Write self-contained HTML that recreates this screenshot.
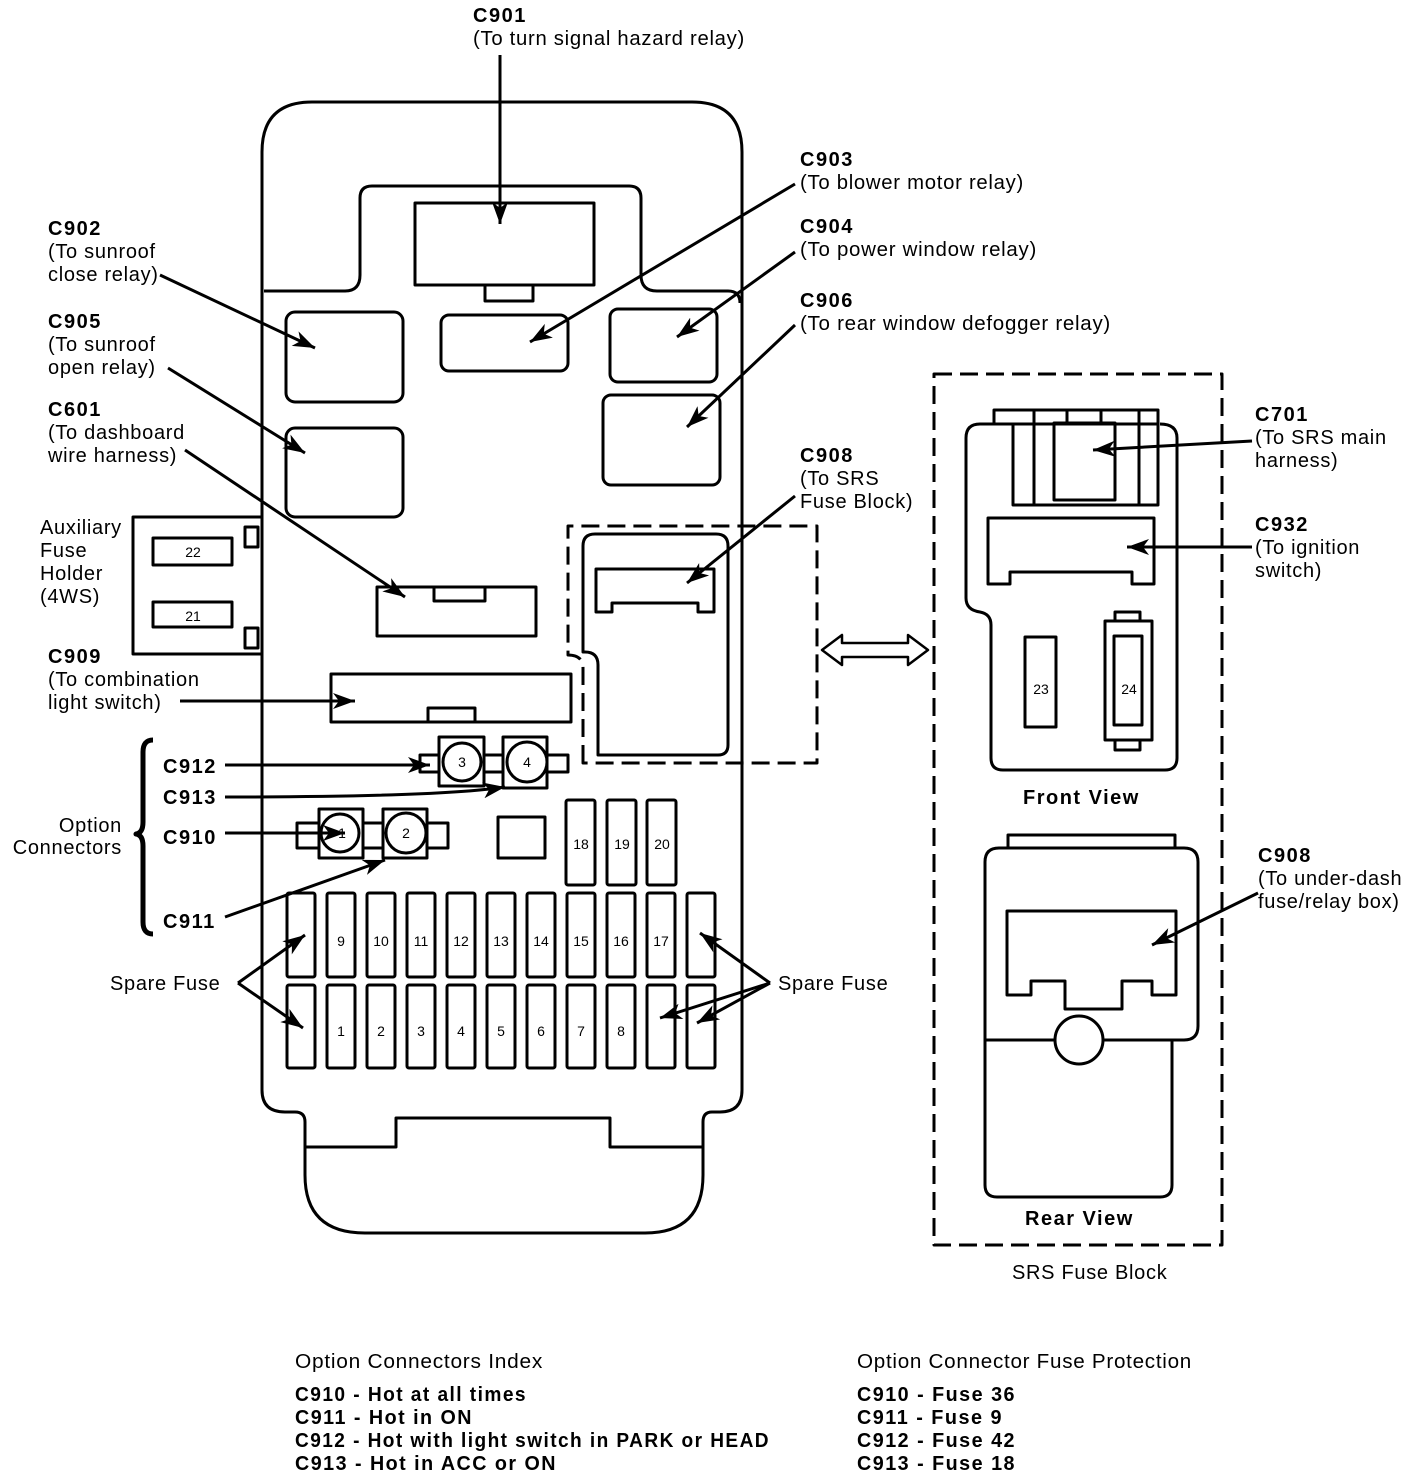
<!DOCTYPE html>
<html><head><meta charset="utf-8"><style>
html,body{margin:0;padding:0;background:#fff}
svg{display:block}
text{font-family:"Liberation Sans",sans-serif;font-size:20px;letter-spacing:0.7px;fill:#000}
.b{font-weight:bold;letter-spacing:1.5px}
.s{font-size:14px;letter-spacing:0}
</style></head><body>
<svg width="1424" height="1476" viewBox="0 0 1424 1476" xmlns="http://www.w3.org/2000/svg">
<defs>
<marker id="a" markerUnits="userSpaceOnUse" markerWidth="24" markerHeight="16" refX="22" refY="8" orient="auto">
<path d="M0,0 L22,8 L0,16 L6,8 Z" fill="#000"/>
</marker>
</defs>
<g fill="none" stroke="#000" stroke-width="3" stroke-linejoin="round">
<path d="M262,1090 L262,152 Q262,102 312,102 L692,102 Q742,102 742,152 L742,1090 Q742,1112 720,1112 L712,1112 Q703,1112 703,1122 L703,1175 Q703,1233 645,1233 L365,1233 Q305,1233 305,1175 L305,1122 Q305,1112 295,1112 L285,1112 Q262,1112 262,1090 Z"/>
<path d="M305,1147 L396,1147 L396,1118 L610,1118 L610,1147 L703,1147"/>
<path d="M264,291 L345,291 Q360,291 360,275 L360,198 Q360,186 372,186 L629,186 Q641,186 641,198 L641,275 Q641,291 657,291 L728,291 Q740,291 740,303"/>
<rect x="415" y="203" width="179" height="82"/>
<rect x="485" y="285" width="48" height="16"/>
<rect x="286" y="312" width="117" height="90" rx="9"/>
<rect x="441" y="315" width="127" height="56" rx="8"/>
<rect x="610" y="309" width="107" height="73" rx="8"/>
<rect x="603" y="395" width="117" height="90" rx="8"/>
<rect x="286" y="428" width="117" height="89" rx="9"/>
<rect x="377" y="587" width="159" height="49"/>
<rect x="434" y="587" width="51" height="14"/>
<rect x="331" y="674" width="240" height="48"/>
<rect x="428" y="708" width="47" height="14"/>
<path d="M262,517 L133,517 L133,654 L262,654"/>
<rect x="153" y="538" width="79" height="27"/>
<rect x="153" y="602" width="79" height="25"/>
<rect x="245" y="527" width="13" height="20"/>
<rect x="245" y="628" width="13" height="20"/>
<path d="M583,763 L583,668 Q583,655 568,655 L568,526 L817,526 L817,763 Z" stroke-dasharray="18,8"/>
<path d="M598,755 L598,665 Q598,652 585,652 L583,652 L583,546 Q583,534 595,534 L716,534 Q728,534 728,546 L728,745 Q728,755 718,755 Z"/>
<path d="M596,612 L596,569 L714,569 L714,612 L698,612 L698,603 L612,603 L612,612 Z"/>
<rect x="439" y="737" width="45" height="49"/>
<rect x="503" y="737" width="44" height="51"/>
<path d="M439,755 L420,755 L420,772 L439,772 M484,755 L503,755 M484,772 L503,772 M547,755 L568,755 L568,772 L547,772"/>
<circle cx="462" cy="762" r="19" fill="#fff"/>
<circle cx="527" cy="762" r="20" fill="#fff"/>
<rect x="319" y="809" width="44" height="49"/>
<rect x="383" y="809" width="44" height="49"/>
<path d="M319,823 L297,823 L297,848 L319,848 M363,823 L383,823 M363,848 L383,848 M427,823 L448,823 L448,848 L427,848"/>
<circle cx="340" cy="833" r="19" fill="#fff"/>
<circle cx="406" cy="833" r="20" fill="#fff"/>
<rect x="498" y="817" width="47" height="41"/>
<rect x="566" y="800" width="29" height="85" rx="2"/>
<rect x="607" y="800" width="29" height="85" rx="2"/>
<rect x="647" y="800" width="29" height="85" rx="2"/>
<g>
<rect x="287" y="893" width="28" height="84" rx="2"/><rect x="327" y="893" width="28" height="84" rx="2"/><rect x="367" y="893" width="28" height="84" rx="2"/><rect x="407" y="893" width="28" height="84" rx="2"/><rect x="447" y="893" width="28" height="84" rx="2"/><rect x="487" y="893" width="28" height="84" rx="2"/><rect x="527" y="893" width="28" height="84" rx="2"/><rect x="567" y="893" width="28" height="84" rx="2"/><rect x="607" y="893" width="28" height="84" rx="2"/><rect x="647" y="893" width="28" height="84" rx="2"/><rect x="687" y="893" width="28" height="84" rx="2"/>
<rect x="287" y="985" width="28" height="83" rx="2"/><rect x="327" y="985" width="28" height="83" rx="2"/><rect x="367" y="985" width="28" height="83" rx="2"/><rect x="407" y="985" width="28" height="83" rx="2"/><rect x="447" y="985" width="28" height="83" rx="2"/><rect x="487" y="985" width="28" height="83" rx="2"/><rect x="527" y="985" width="28" height="83" rx="2"/><rect x="567" y="985" width="28" height="83" rx="2"/><rect x="607" y="985" width="28" height="83" rx="2"/><rect x="647" y="985" width="28" height="83" rx="2"/><rect x="687" y="985" width="28" height="83" rx="2"/>
</g>
<rect x="934" y="374" width="288" height="871" stroke-dasharray="18,8"/>
<path d="M1013,424 L980,424 Q966,424 966,438 L966,598 Q966,610 980,612 Q991,614 991,625 L991,758 Q991,770 1003,770 L1165,770 Q1177,770 1177,758 L1177,438 Q1177,424 1160,424"/>
<rect x="994" y="410" width="164" height="14"/>
<rect x="1013" y="424" width="145" height="81"/>
<path d="M1034,410 L1034,505 M1139,410 L1139,505 M1067,410 L1067,423 M1101,410 L1101,423"/>
<rect x="1054" y="423" width="61" height="77"/>
<path d="M988,584 L988,518 L1154,518 L1154,584 L1132,584 L1132,572 L1010,572 L1010,584 Z"/>
<rect x="1025" y="637" width="31" height="90"/>
<rect x="1105" y="621" width="47" height="119"/>
<rect x="1115" y="612" width="25" height="9"/>
<rect x="1115" y="740" width="25" height="10"/>
<rect x="1114" y="636" width="28" height="89"/>
<rect x="1008" y="835" width="167" height="13"/>
<path d="M985,1040 L985,862 Q985,848 999,848 L1184,848 Q1198,848 1198,862 L1198,1026 Q1198,1040 1184,1040 L985,1040 M985,1040 L985,1185 Q985,1197 997,1197 L1160,1197 Q1172,1197 1172,1185 L1172,1040"/>
<path d="M1007,995 L1007,911 L1176,911 L1176,995 L1152,995 L1152,981 L1122,981 L1122,1009 L1065,1009 L1065,981 L1031,981 L1031,995 Z"/>
<circle cx="1079" cy="1040" r="24" fill="#fff"/>
<path d="M822,650 L842,635 L842,643 L908,643 L908,635 L928,650 L908,665 L908,657 L842,657 L842,665 Z" stroke-width="2.5"/>
<path d="M153,740 Q143,740 143,752 L143,822 Q143,833 136,834 Q143,835 143,846 L143,922 Q143,934 153,934" stroke-width="5"/>
</g>
<g stroke="#000" stroke-width="3" fill="none" marker-end="url(#a)">
<path d="M500,55 L500,224"/>
<path d="M795,184 L530,342"/>
<path d="M160,275 L315,348"/>
<path d="M795,252 L677,337"/>
<path d="M795,325 L687,427"/>
<path d="M168,368 L305,453"/>
<path d="M185,450 L405,597"/>
<path d="M795,496 L687,583"/>
<path d="M180,701 L355,701"/>
<path d="M225,765 L430,765"/>
<path d="M225,797 Q440,797 505,787"/>
<path d="M225,833 L345,833"/>
<path d="M225,917 L385,860"/>
<path d="M238,983 L305,935"/>
<path d="M238,983 L303,1028"/>
<path d="M770,983 L700,933"/>
<path d="M770,983 L660,1018"/>
<path d="M770,983 L697,1023"/>
<path d="M1252,441 L1093,450"/>
<path d="M1252,547 L1127,547"/>
<path d="M1258,893 L1152,945"/>
</g>
<g class="s" text-anchor="middle">
<text x="341" y="946" class="s">9</text><text x="381" y="946" class="s">10</text><text x="421" y="946" class="s">11</text><text x="461" y="946" class="s">12</text><text x="501" y="946" class="s">13</text><text x="541" y="946" class="s">14</text><text x="581" y="946" class="s">15</text><text x="621" y="946" class="s">16</text><text x="661" y="946" class="s">17</text>
<text x="341" y="1036" class="s">1</text><text x="381" y="1036" class="s">2</text><text x="421" y="1036" class="s">3</text><text x="461" y="1036" class="s">4</text><text x="501" y="1036" class="s">5</text><text x="541" y="1036" class="s">6</text><text x="581" y="1036" class="s">7</text><text x="621" y="1036" class="s">8</text>
<text x="581" y="849" class="s">18</text><text x="622" y="849" class="s">19</text><text x="662" y="849" class="s">20</text>
<text x="462" y="767" class="s">3</text><text x="527" y="767" class="s">4</text>
<text x="342" y="838" class="s">1</text><text x="406" y="838" class="s">2</text>
<text x="193" y="557" class="s">22</text><text x="193" y="621" class="s">21</text>
<text x="1041" y="694" class="s">23</text><text x="1129" y="694" class="s">24</text>
</g>
<text x="473" y="22" class="b">C901</text>
<text x="473" y="45" textLength="272" lengthAdjust="spacingAndGlyphs">(To turn signal hazard relay)</text>
<text x="800" y="166" class="b">C903</text>
<text x="800" y="189" textLength="224" lengthAdjust="spacingAndGlyphs">(To blower motor relay)</text>
<text x="800" y="233" class="b">C904</text>
<text x="800" y="256" textLength="237" lengthAdjust="spacingAndGlyphs">(To power window relay)</text>
<text x="800" y="307" class="b">C906</text>
<text x="800" y="330" textLength="311" lengthAdjust="spacingAndGlyphs">(To rear window defogger relay)</text>
<text x="800" y="462" class="b">C908</text>
<text x="800" y="485">(To SRS</text>
<text x="800" y="508">Fuse Block)</text>
<text x="48" y="235" class="b">C902</text>
<text x="48" y="258">(To sunroof</text>
<text x="48" y="281">close relay)</text>
<text x="48" y="328" class="b">C905</text>
<text x="48" y="351">(To sunroof</text>
<text x="48" y="374">open relay)</text>
<text x="48" y="416" class="b">C601</text>
<text x="48" y="439">(To dashboard</text>
<text x="48" y="462">wire harness)</text>
<text x="40" y="534">Auxiliary</text>
<text x="40" y="557">Fuse</text>
<text x="40" y="580">Holder</text>
<text x="40" y="603">(4WS)</text>
<text x="48" y="663" class="b">C909</text>
<text x="48" y="686">(To combination</text>
<text x="48" y="709">light switch)</text>
<text x="163" y="773" class="b">C912</text>
<text x="163" y="804" class="b">C913</text>
<text x="163" y="844" class="b">C910</text>
<text x="163" y="928" class="b">C911</text>
<text x="122" y="832" text-anchor="end">Option</text>
<text x="122" y="854" text-anchor="end">Connectors</text>
<text x="110" y="990">Spare Fuse</text>
<text x="778" y="990">Spare Fuse</text>
<text x="1255" y="421" class="b">C701</text>
<text x="1255" y="444">(To SRS main</text>
<text x="1255" y="467">harness)</text>
<text x="1255" y="531" class="b">C932</text>
<text x="1255" y="554">(To ignition</text>
<text x="1255" y="577">switch)</text>
<text x="1023" y="804" class="b">Front View</text>
<text x="1025" y="1225" class="b">Rear View</text>
<text x="1258" y="862" class="b">C908</text>
<text x="1258" y="885">(To under-dash</text>
<text x="1258" y="908">fuse/relay box)</text>
<text x="1012" y="1279">SRS Fuse Block</text>
<text x="295" y="1368" textLength="248" lengthAdjust="spacingAndGlyphs">Option Connectors Index</text>
<text x="295" y="1401" class="b" textLength="232" lengthAdjust="spacingAndGlyphs">C910  - Hot at all times</text>
<text x="295" y="1424" class="b" textLength="178" lengthAdjust="spacingAndGlyphs">C911  - Hot in ON</text>
<text x="295" y="1447" class="b" textLength="475" lengthAdjust="spacingAndGlyphs">C912  - Hot with light switch in PARK or HEAD</text>
<text x="295" y="1470" class="b" textLength="262" lengthAdjust="spacingAndGlyphs">C913  - Hot in ACC or ON</text>
<text x="857" y="1368" textLength="335" lengthAdjust="spacingAndGlyphs">Option Connector Fuse Protection</text>
<text x="857" y="1401" class="b" textLength="159" lengthAdjust="spacingAndGlyphs">C910  - Fuse 36</text>
<text x="857" y="1424" class="b" textLength="146" lengthAdjust="spacingAndGlyphs">C911  - Fuse 9</text>
<text x="857" y="1447" class="b" textLength="159" lengthAdjust="spacingAndGlyphs">C912  - Fuse 42</text>
<text x="857" y="1470" class="b" textLength="159" lengthAdjust="spacingAndGlyphs">C913  - Fuse 18</text>
</svg>
</body></html>
